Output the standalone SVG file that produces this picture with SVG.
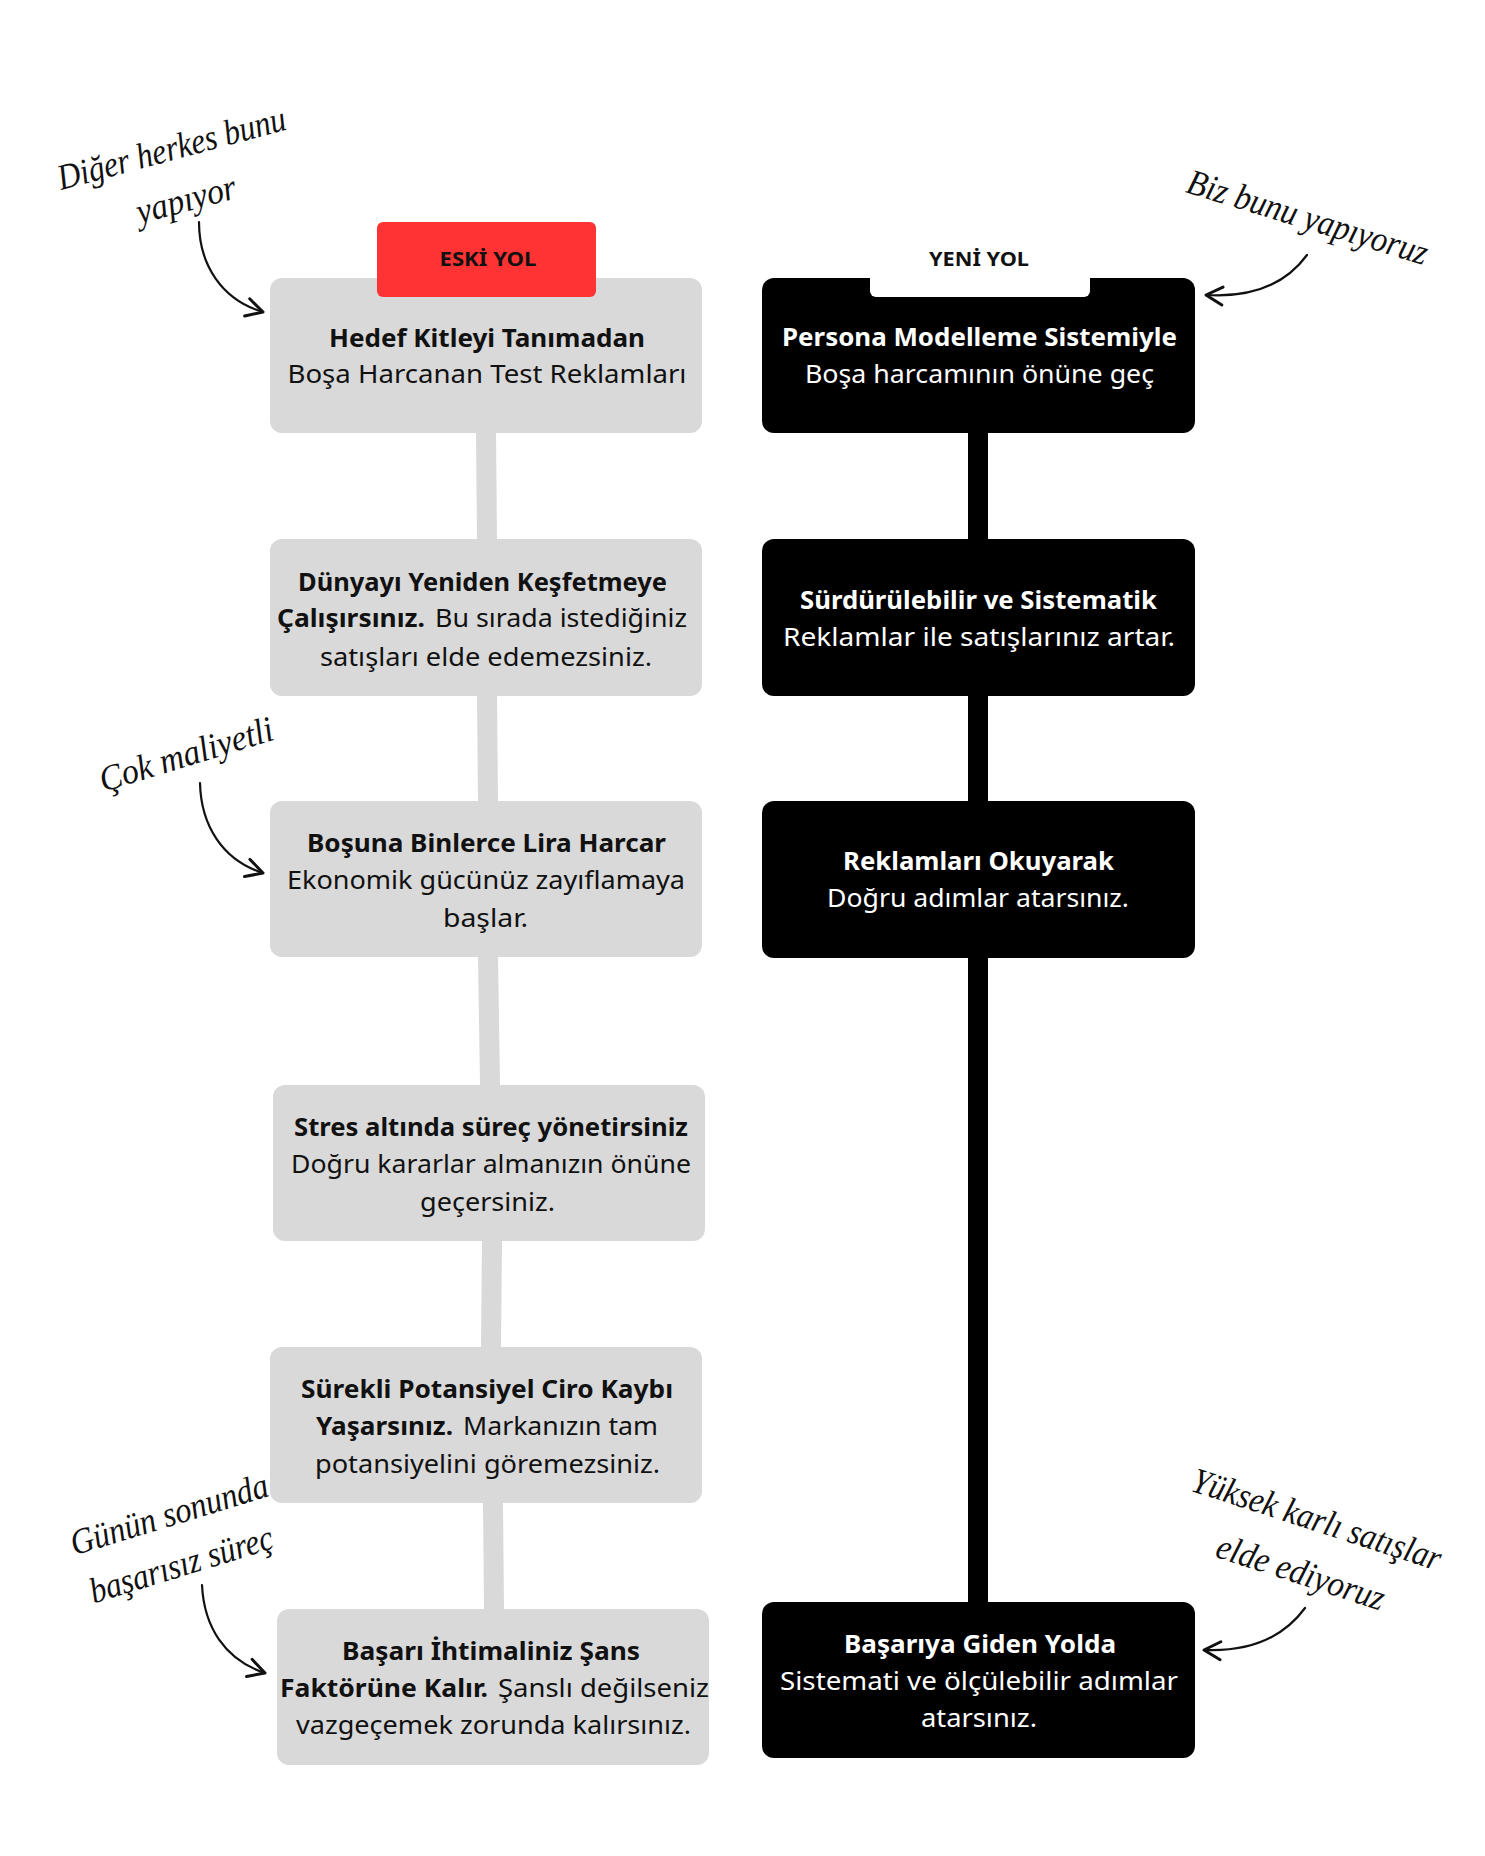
<svg xmlns="http://www.w3.org/2000/svg" width="1485" height="1856" viewBox="0 0 1485 1856">
<style>
.bg{fill:#ffffff}
.old{fill:#d9d9d9}
.new{fill:#000000}
.t{font-family:"Noto Sans","DejaVu Sans",sans-serif;font-size:25px}
.b{font-weight:700}
.r{font-weight:400}
.dk{fill:#111111}
.lt{fill:#ffffff}
.tag{font-family:"Noto Sans","DejaVu Sans",sans-serif;font-size:19px;font-weight:700;fill:#111111}
.hand{font-family:"Liberation Serif","DejaVu Serif",serif;font-style:italic;font-size:36px;fill:#111111}
.arr{fill:none;stroke:#111111;stroke-width:2.2;stroke-linecap:round}
.lc{fill:#d9d9d9}
.rc{fill:#000000}
</style>
<defs>
<marker id="head" markerUnits="userSpaceOnUse" markerWidth="30" markerHeight="30" refX="0" refY="0" viewBox="-16 -10 20 20" orient="auto" overflow="visible">
<path d="M-11,-6 L0,0 L-11,6" fill="none" stroke="#111111" stroke-width="2" stroke-linecap="round" stroke-linejoin="round"/>
</marker>
</defs>
<rect class="bg" x="0" y="0" width="1485" height="1856"/>

<g id="connectors">
<polygon class="lc" points="476,433 496,433 497,539 477,539"/>
<polygon class="lc" points="477,696 497,696 498,801 478,801"/>
<polygon class="lc" points="478,957 498,957 500,1085 480,1085"/>
<polygon class="lc" points="482,1241 502,1241 501,1347 481,1347"/>
<polygon class="lc" points="483,1503 503,1503 504,1609 484,1609"/>
<rect class="rc" x="968" y="430" width="20" height="1175"/>
<path class="arr" d="M199,222 C199,265 222,300 263,312" marker-end="url(#head)"/>
<path class="arr" d="M1307,255 C1285,285 1252,298 1206,295" marker-end="url(#head)"/>
<path class="arr" d="M200,783 C201,825 222,860 263,873" marker-end="url(#head)"/>
<path class="arr" d="M202,1585 C204,1627 225,1660 265,1673" marker-end="url(#head)"/>
<path class="arr" d="M1305,1608 C1283,1638 1250,1652 1204,1650" marker-end="url(#head)"/>
</g>

<g id="old1">
<rect class="old" x="270" y="278" width="432" height="155" rx="12"/>
<rect x="377" y="222" width="219" height="75" rx="6" fill="#ff3333"/>
<text class="tag" x="488" y="266" text-anchor="middle" textLength="97" lengthAdjust="spacingAndGlyphs">ESKİ YOL</text>
<text class="t b dk" x="487" y="347" text-anchor="middle" textLength="316" lengthAdjust="spacingAndGlyphs">Hedef Kitleyi Tanımadan</text>
<text class="t r dk" x="487" y="383" text-anchor="middle" textLength="399" lengthAdjust="spacingAndGlyphs">Boşa Harcanan Test Reklamları</text>
</g>

<g id="old2">
<rect class="old" x="270" y="539" width="432" height="157" rx="12"/>
<text class="t b dk" x="482.5" y="591" text-anchor="middle" textLength="369" lengthAdjust="spacingAndGlyphs">Dünyayı Yeniden Keşfetmeye</text>
<text class="t b dk" x="277" y="627" textLength="148" lengthAdjust="spacingAndGlyphs">Çalışırsınız.</text>
<text class="t r dk" x="435" y="627" textLength="252" lengthAdjust="spacingAndGlyphs">Bu sırada istediğiniz</text>
<text class="t r dk" x="486" y="666" text-anchor="middle" textLength="332" lengthAdjust="spacingAndGlyphs">satışları elde edemezsiniz.</text>
</g>

<g id="old3">
<rect class="old" x="270" y="801" width="432" height="156" rx="12"/>
<text class="t b dk" x="486.5" y="852" text-anchor="middle" textLength="359" lengthAdjust="spacingAndGlyphs">Boşuna Binlerce Lira Harcar</text>
<text class="t r dk" x="486" y="889" text-anchor="middle" textLength="398" lengthAdjust="spacingAndGlyphs">Ekonomik gücünüz zayıflamaya</text>
<text class="t r dk" x="485.5" y="927" text-anchor="middle" textLength="85" lengthAdjust="spacingAndGlyphs">başlar.</text>
</g>

<g id="old4">
<rect class="old" x="273" y="1085" width="432" height="156" rx="12"/>
<text class="t b dk" x="491" y="1136" text-anchor="middle" textLength="394" lengthAdjust="spacingAndGlyphs">Stres altında süreç yönetirsiniz</text>
<text class="t r dk" x="491" y="1173" text-anchor="middle" textLength="400" lengthAdjust="spacingAndGlyphs">Doğru kararlar almanızın önüne</text>
<text class="t r dk" x="487.5" y="1211" text-anchor="middle" textLength="135" lengthAdjust="spacingAndGlyphs">geçersiniz.</text>
</g>

<g id="old5">
<rect class="old" x="270" y="1347" width="432" height="156" rx="12"/>
<text class="t b dk" x="487" y="1398" text-anchor="middle" textLength="372" lengthAdjust="spacingAndGlyphs">Sürekli Potansiyel Ciro Kaybı</text>
<text class="t b dk" x="316" y="1435" textLength="137" lengthAdjust="spacingAndGlyphs">Yaşarsınız.</text>
<text class="t r dk" x="463" y="1435" textLength="195" lengthAdjust="spacingAndGlyphs">Markanızın tam</text>
<text class="t r dk" x="487.5" y="1473" text-anchor="middle" textLength="345" lengthAdjust="spacingAndGlyphs">potansiyelini göremezsiniz.</text>
</g>

<g id="old6">
<rect class="old" x="277" y="1609" width="432" height="156" rx="12"/>
<text class="t b dk" x="491" y="1660" text-anchor="middle" textLength="298" lengthAdjust="spacingAndGlyphs">Başarı İhtimaliniz Şans</text>
<text class="t b dk" x="280" y="1697" textLength="208" lengthAdjust="spacingAndGlyphs">Faktörüne Kalır.</text>
<text class="t r dk" x="498" y="1697" textLength="211" lengthAdjust="spacingAndGlyphs">Şanslı değilseniz</text>
<text class="t r dk" x="493.5" y="1734" text-anchor="middle" textLength="395" lengthAdjust="spacingAndGlyphs">vazgeçemek zorunda kalırsınız.</text>
</g>

<g id="new1">
<rect class="new" x="762" y="278" width="433" height="155" rx="12"/>
<rect x="870" y="222" width="220" height="75" rx="6" fill="#ffffff"/>
<text class="tag" x="979" y="266" text-anchor="middle" textLength="100" lengthAdjust="spacingAndGlyphs">YENİ YOL</text>
<text class="t b lt" x="979.5" y="346" text-anchor="middle" textLength="395" lengthAdjust="spacingAndGlyphs">Persona Modelleme Sistemiyle</text>
<text class="t r lt" x="979.5" y="383" text-anchor="middle" textLength="349" lengthAdjust="spacingAndGlyphs">Boşa harcamının önüne geç</text>
</g>

<g id="new2">
<rect class="new" x="762" y="539" width="433" height="157" rx="12"/>
<text class="t b lt" x="978.5" y="609" text-anchor="middle" textLength="357" lengthAdjust="spacingAndGlyphs">Sürdürülebilir ve Sistematik</text>
<text class="t r lt" x="979" y="646" text-anchor="middle" textLength="392" lengthAdjust="spacingAndGlyphs">Reklamlar ile satışlarınız artar.</text>
</g>

<g id="new3">
<rect class="new" x="762" y="801" width="433" height="157" rx="12"/>
<text class="t b lt" x="978.5" y="870" text-anchor="middle" textLength="271" lengthAdjust="spacingAndGlyphs">Reklamları Okuyarak</text>
<text class="t r lt" x="978" y="907" text-anchor="middle" textLength="302" lengthAdjust="spacingAndGlyphs">Doğru adımlar atarsınız.</text>
</g>

<g id="new4">
<rect class="new" x="762" y="1602" width="433" height="156" rx="12"/>
<text class="t b lt" x="980" y="1653" text-anchor="middle" textLength="272" lengthAdjust="spacingAndGlyphs">Başarıya Giden Yolda</text>
<text class="t r lt" x="979" y="1690" text-anchor="middle" textLength="398" lengthAdjust="spacingAndGlyphs">Sistemati ve ölçülebilir adımlar</text>
<text class="t r lt" x="979" y="1727" text-anchor="middle" textLength="116" lengthAdjust="spacingAndGlyphs">atarsınız.</text>
</g>

<g id="note1" transform="translate(172,150) rotate(-15)">
<text class="hand" x="0" y="10" text-anchor="middle" textLength="235" lengthAdjust="spacingAndGlyphs">Diğer herkes bunu</text>
</g>
<g id="note1b" transform="translate(187,203) rotate(-15)">
<text class="hand" x="0" y="8" text-anchor="middle" textLength="102" lengthAdjust="spacingAndGlyphs">yapıyor</text>
</g>
<g id="note2" transform="translate(1307,220) rotate(17)">
<text class="hand" x="0" y="9" text-anchor="middle" textLength="250" lengthAdjust="spacingAndGlyphs">Biz bunu yapıyoruz</text>
</g>
<g id="note3" transform="translate(187,757) rotate(-17)">
<text class="hand" x="0" y="9" text-anchor="middle" textLength="180" lengthAdjust="spacingAndGlyphs">Çok maliyetli</text>
</g>
<g id="note5" transform="translate(170,1517) rotate(-17)">
<text class="hand" x="0" y="9" text-anchor="middle" textLength="205" lengthAdjust="spacingAndGlyphs">Günün sonunda</text>
</g>
<g id="note5b" transform="translate(182,1567) rotate(-17)">
<text class="hand" x="0" y="9" text-anchor="middle" textLength="190" lengthAdjust="spacingAndGlyphs">başarısız süreç</text>
</g>
<g id="note6" transform="translate(1316,1522) rotate(18)">
<text class="hand" x="0" y="9" text-anchor="middle" textLength="260" lengthAdjust="spacingAndGlyphs">Yüksek karlı satışlar</text>
</g>
<g id="note6b" transform="translate(1300,1575) rotate(18)">
<text class="hand" x="0" y="9" text-anchor="middle" textLength="175" lengthAdjust="spacingAndGlyphs">elde ediyoruz</text>
</g>
</svg>
